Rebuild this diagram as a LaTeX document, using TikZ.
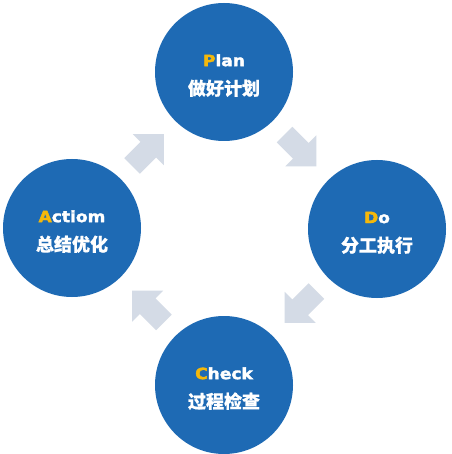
\documentclass[tikz,border=0pt]{standalone}
\usepackage{fontspec}
\usepackage{graphicx}
\usetikzlibrary{calc}
\newfontfamily\cjk{Noto Sans CJK SC}[BoldFeatures={FakeBold=0.6}]
\newfontfamily\latf{DejaVu Sans}[BoldFeatures={FakeBold=2.2}]
\definecolor{pdcablue}{RGB}{30,106,180}
\definecolor{pdcayellow}{RGB}{245,184,10}
\definecolor{pdcagrey}{RGB}{212,219,230}
\newcommand{\pdcahead}[2]{\rule{0pt}{19pt}\scalebox{1.1}[1]{\latf\bfseries\fontsize{15.5}{29}\selectfont\textcolor{pdcayellow}{#1}#2}}
\newcommand{\pdcasub}[1]{{\cjk\bfseries\fontsize{18}{29}\selectfont #1}}
\begin{document}
\begin{tikzpicture}[x=1pt,y=-1pt,
  stage/.style={circle, fill=pdcablue, minimum size=138pt, inner sep=0pt,
    text=white, align=center, font=\fontsize{15}{29}\selectfont},
  flow/.style={fill=pdcagrey}]
\fill[white] (0,0) rectangle (451,454);
\useasboundingbox (0,0) rectangle (451,454);
\node[stage] (plan)  at (224,72)  {\pdcahead{P}{lan}\\\pdcasub{做好计划}};
\node[stage] (do)    at (377,229) {\pdcahead{D}{o}\\\pdcasub{分工执行}};
\node[stage] (check) at (224,385) {\pdcahead{C}{heck}\\\pdcasub{过程检查}};
\node[stage] (act)   at (72,228)  {\pdcahead{A}{ctiom}\\\pdcasub{总结优化}};
\foreach \a/\b/\r in {plan/do/-45, do/check/-135, check/act/135, act/plan/45}{
  \fill[flow, shift={($(\a)!0.5!(\b)$)}, rotate=\r]
    (-22.5,-11) -- (0.5,-11) -- (0.5,-22) -- (22.5,0) -- (0.5,22) -- (0.5,11) -- (-22.5,11) -- cycle;
}
\end{tikzpicture}
\end{document}
